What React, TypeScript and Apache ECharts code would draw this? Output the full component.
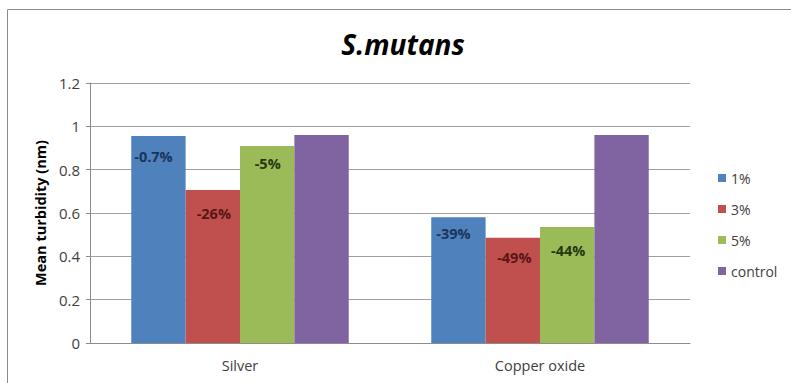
import React, { useEffect, useRef } from "react";
import * as echarts from "echarts";

const categories = ["Silver", "Copper oxide"];
const seriesNames = ["1%", "3%", "5%", "control"];
const values1 = [0.955, 0.58];
const values3 = [0.706, 0.486];
const values5 = [0.909, 0.535];
const valuesControl = [0.96, 0.96];
const labels1 = ["-0.7%", "-39%"];
const labels3 = ["-26%", "-49%"];
const labels5 = ["-5%", "-44%"];
const yTicks = [0, 0.2, 0.4, 0.6, 0.8, 1, 1.2];

const colors = ["#4f81bd", "#c0504d", "#9bbb59", "#8064a2"];
const labelColors = ["#1a355c", "#5a1616", "#26380f"];
const labelOffsets = [
  [[-5, 8], [-5, 3.5]],
  [[1, 11], [1.5, 7.5]],
  [[0.5, 4.5], [1, 10.5]],
];

const FONT = "'Open Sans', sans-serif";

export default function App() {
  const ref = useRef<HTMLDivElement>(null);
  useEffect(() => {
    if (!ref.current) return;
    const chart = echarts.init(ref.current, null, { renderer: "svg" });
    const valueSets = [values1, values3, values5, valuesControl];
    const labelSets = [labels1, labels3, labels5];
    const series = seriesNames.map((name, si) => ({
      name,
      type: "bar",
      barGap: "0%",
      barCategoryGap: "27.5%",
      itemStyle: { color: colors[si] },
      data: valueSets[si].map((v, ci) => {
        if (si >= 3) return { value: v };
        return {
          value: v,
          label: {
            show: true,
            position: "insideTop",
            formatter: labelSets[si][ci],
            offset: labelOffsets[si][ci],
            color: labelColors[si],
            fontWeight: "bold",
            fontSize: 14.5,
            fontFamily: FONT,
          },
        };
      }),
    }));
    chart.setOption({
      animation: false,
      textStyle: { fontFamily: FONT },
      graphic: [
        {
          type: "rect",
          shape: { x: 7.5, y: 9.5, width: 820, height: 420 },
          style: { fill: "none", stroke: "#8c8c8c", lineWidth: 1 },
          silent: true,
        },
        {
          type: "text",
          x: 403,
          y: 44,
          style: {
            text: "S.mutans",
            fontSize: 28,
            fontWeight: "bold",
            fontStyle: "italic",
            fontFamily: FONT,
            fill: "#000",
            textAlign: "center",
            textVerticalAlign: "middle",
          },
        },
      ],
      legend: {
        orient: "vertical",
        left: 713,
        top: 166,
        padding: 5,
        itemWidth: 8,
        itemHeight: 8,
        itemGap: 17,
        itemStyle: { borderWidth: 0 },
        icon: "rect",
        data: seriesNames,
        textStyle: { fontSize: 14, color: "#404040", fontFamily: FONT, lineHeight: 14 },
      },
      grid: { left: 90, right: 101, top: 83, bottom: 40 },
      xAxis: {
        type: "category",
        data: categories,
        axisLine: { lineStyle: { color: "#8c8c8c" } },
        axisTick: { show: false },
        axisLabel: { fontSize: 14.5, color: "#404040", margin: 15, fontFamily: FONT },
      },
      yAxis: {
        type: "value",
        min: yTicks[0],
        max: yTicks[yTicks.length - 1],
        interval: 0.2,
        name: "Mean turbidity (nm)",
        nameLocation: "middle",
        nameGap: 41,
        nameTextStyle: { fontSize: 14.5, fontWeight: "bold", color: "#000", fontFamily: FONT },
        axisLine: { show: true, lineStyle: { color: "#8c8c8c" } },
        axisTick: { show: true, length: 4, lineStyle: { color: "#8c8c8c" } },
        axisLabel: { fontSize: 15, color: "#404040", margin: 10, fontFamily: FONT },
        splitLine: { lineStyle: { color: "#a0a0a0" } },
      },
      series,
    });
    return () => chart.dispose();
  }, []);
  return (
    <div
      ref={ref}
      style={{ position: "absolute", left: 0, top: 0, width: 791, height: 383, background: "#fff" }}
    />
  );
}
